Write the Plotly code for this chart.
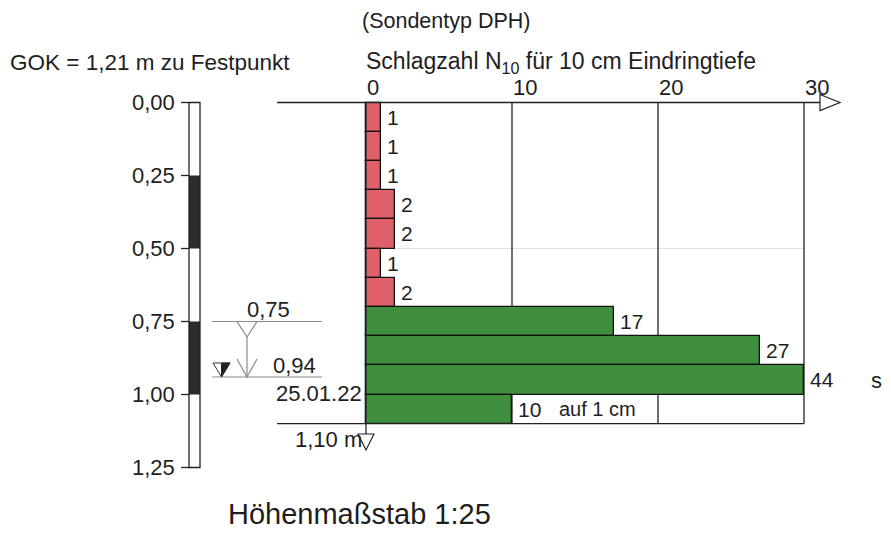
import numpy as np
import plotly.graph_objects as go

# ---------------- data ----------------
depth_top = [0.0, 0.1, 0.2, 0.3, 0.4, 0.5, 0.6, 0.7, 0.8, 0.9, 1.0]
blow_counts = [1, 1, 1, 2, 2, 1, 2, 17, 27, 44, 10]
bar_layer = ["fill", "fill", "fill", "fill", "fill", "fill", "fill",
             "soil", "soil", "soil", "soil"]
x_ticks = [0, 10, 20, 30]
x_tick_labels = ["0", "10", "20", "30"]
depth_ticks = [0.0, 0.25, 0.50, 0.75, 1.00, 1.25]
depth_tick_labels = ["0,00", "0,25", "0,50", "0,75", "1,00", "1,25"]
profile_dark = [(0.25, 0.50), (0.75, 1.00)]
water_levels = [0.75, 0.94]
water_level_labels = ["0,75", "0,94"]
water_date = "25.01.22"
end_depth = 1.10
end_depth_label = "1,10 m"
last_note = "auf 1 cm"
x_max = 30
bar_height = 0.1

# ---------------- styling ----------------
PAGE_W, PAGE_H = 891, 533
OFF = 8                      # default page body margin
W, H = PAGE_W - 2 * OFF, PAGE_H - OFF
X0_PX, PX_PER_UNIT = 366, 14.6
Y0_PX, PX_PER_M = 102.5, 292
FONT = "Liberation Sans, Arial, sans-serif"
TXT = "#1e1e1e"
COLORS = {"fill": "#e0606a", "soil": "#3f8f3f"}


def px2x(px):
    return (px - X0_PX) / PX_PER_UNIT


def py2y(py):
    return (py - Y0_PX) / PX_PER_M


def pxp(px):
    return (px - OFF) / W


def pyp(py):
    return 1 - (py - OFF) / H


mids = [d + bar_height / 2 for d in depth_top]
shown = list(np.minimum(blow_counts, x_max))

fig = go.Figure()
fig.add_trace(go.Bar(
    orientation="h", y=mids, x=shown, base=0, width=bar_height,
    marker=dict(color=[COLORS[l] for l in bar_layer],
                line=dict(color="#111", width=1.3)),
    hoverinfo="skip", showlegend=False,
))

shapes = []
ann = []


def text(x, y, s, size, xanchor="left", xref="x", yref="y", xshift=0):
    ann.append(dict(x=x, y=y, xref=xref, yref=yref, text=s, showarrow=False,
                    xanchor=xanchor, yanchor="middle", xshift=xshift,
                    font=dict(size=size, color=TXT, family=FONT)))


# faint line at 0.5
shapes.append(dict(type="line", x0=0, x1=x_max, y0=0.5, y1=0.5, xref="x", yref="y",
                   line=dict(color="#dde0ea", width=1), layer="below"))
# grid lines
for t in x_ticks[1:]:
    shapes.append(dict(type="line", x0=t, x1=t, y0=0, y1=end_depth, xref="x", yref="y",
                       line=dict(color="#222", width=1.3), layer="below"))
# top axis line + arrow
shapes.append(dict(type="line", x0=px2x(277), x1=px2x(820), y0=0, y1=0,
                   xref="x", yref="y", line=dict(color="#222", width=1.3)))
ax0, ax1 = px2x(820), px2x(840)
shapes.append(dict(type="path", xref="x", yref="y",
                   path=f"M {ax0},{py2y(94.5)} L {ax1},0 L {ax0},{py2y(110.5)} Z",
                   fillcolor="white", line=dict(color="#222", width=1.2)))
# bottom line
shapes.append(dict(type="line", x0=px2x(277), x1=x_max, y0=end_depth, y1=end_depth,
                   xref="x", yref="y", line=dict(color="#222", width=1.3)))
# vertical zero line
shapes.append(dict(type="line", x0=0, x1=0, y0=0, y1=py2y(434), xref="x", yref="y",
                   line=dict(color="#222", width=1.3)))
# end depth triangle
shapes.append(dict(type="path", xref="x", yref="y",
                   path=f"M {px2x(358)},{py2y(434)} L {px2x(374)},{py2y(434)} L 0,{py2y(450)} Z",
                   fillcolor="white", line=dict(color="#222", width=1.1)))

# tick labels on top
for t, lab in zip(x_ticks, x_tick_labels):
    text(t, py2y(87), lab, 22, xshift=-1)

# bar labels
for v, s, m in zip(blow_counts, shown, mids):
    text(s, m, str(v), 21, xshift=4)
text(px2x(557), mids[-1], last_note, 20)

# left profile strip
for a, b in profile_dark:
    shapes.append(dict(type="rect", xref="paper", yref="y", x0=pxp(189), x1=pxp(200),
                       y0=a, y1=b, fillcolor="#2e2a2a", line=dict(width=0)))
shapes.append(dict(type="rect", xref="paper", yref="y", x0=pxp(189), x1=pxp(200),
                   y0=depth_ticks[0], y1=depth_ticks[-1], fillcolor="rgba(0,0,0,0)",
                   line=dict(color="#222", width=1.3)))
for t, lab in zip(depth_ticks, depth_tick_labels):
    shapes.append(dict(type="line", xref="paper", yref="y", x0=pxp(181), x1=pxp(189),
                       y0=t, y1=t, line=dict(color="#222", width=1.3)))
    text(pxp(177), t, lab, 22, xanchor="right", xref="paper")

# water level markers
GREY = "#8a8a8a"
for wl in water_levels:
    shapes.append(dict(type="line", xref="paper", yref="y", x0=pxp(212), x1=pxp(322),
                       y0=wl, y1=wl, line=dict(color=GREY, width=1.2)))
w0, w1 = water_levels
shapes.append(dict(type="path", xref="paper", yref="y",
                   path=f"M {pxp(237)},{w0} L {pxp(257)},{w0} L {pxp(247)},{py2y(337)} Z",
                   fillcolor="white", line=dict(color=GREY, width=1.2)))
shapes.append(dict(type="line", xref="paper", yref="y", x0=pxp(247), x1=pxp(247),
                   y0=py2y(337), y1=w1, line=dict(color=GREY, width=1.2)))
shapes.append(dict(type="path", xref="paper", yref="y",
                   path=f"M {pxp(237)},{py2y(359)} L {pxp(247)},{w1} L {pxp(257)},{py2y(359)}",
                   line=dict(color=GREY, width=1.2)))
# measured water level symbol
shapes.append(dict(type="path", xref="paper", yref="y",
                   path=f"M {pxp(221.5)},{py2y(363)} L {pxp(230)},{py2y(363)} L {pxp(221.5)},{w1} Z",
                   fillcolor="#222", line=dict(color="#222", width=1)))
shapes.append(dict(type="path", xref="paper", yref="y",
                   path=f"M {pxp(213)},{py2y(363)} L {pxp(230)},{py2y(363)} L {pxp(221.5)},{w1} Z",
                   fillcolor="rgba(0,0,0,0)", line=dict(color="#333", width=1)))

text(pxp(245), py2y(309), water_level_labels[0], 22, xref="paper")
text(pxp(271), py2y(365), water_level_labels[1], 22, xref="paper")
text(pxp(364), py2y(393), water_date, 22, xanchor="right", xref="paper")
text(pxp(293), py2y(439), end_depth_label, 22, xref="paper")

# header texts
text(pxp(360), pyp(21), "(Sondentyp DPH)", 21.5, xref="paper", yref="paper")
text(pxp(8), pyp(62), "GOK = 1,21 m zu Festpunkt", 22.5, xref="paper", yref="paper")
text(pxp(364), pyp(62), "Schlagzahl N<sub>10</sub> für 10 cm Eindringtiefe", 23,
     xref="paper", yref="paper")
text(pxp(876), py2y(380), "s", 22, xanchor="center", xref="paper")
text(pxp(226), pyp(514), "Höhenmaßstab 1:25", 29, xref="paper", yref="paper")

fig.update_layout(
    width=W, height=H, autosize=False,
    margin=dict(l=0, r=0, t=0, b=0),
    paper_bgcolor="white", plot_bgcolor="white",
    xaxis=dict(range=[px2x(OFF), px2x(OFF + W)], visible=False, fixedrange=True),
    yaxis=dict(range=[py2y(OFF + H), py2y(OFF)], visible=False, fixedrange=True),
    shapes=shapes, annotations=ann, bargap=0,
    font=dict(family=FONT),
)

fig.write_html("out.html")
